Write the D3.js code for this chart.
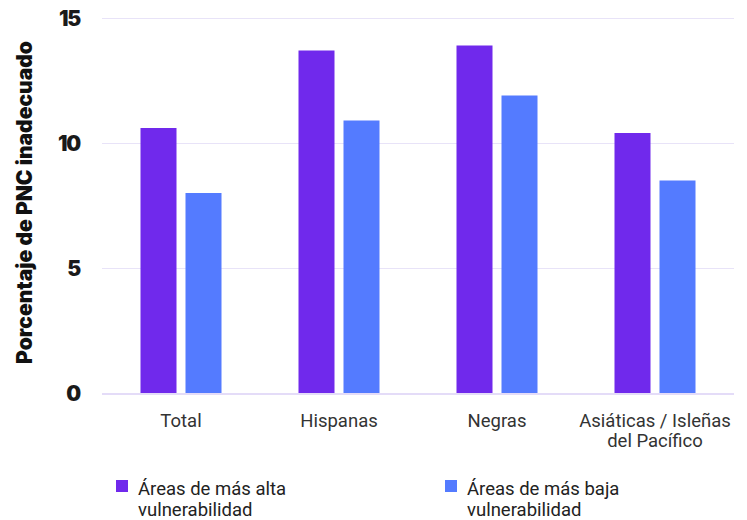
<!DOCTYPE html>
<html><head><meta charset="utf-8">
<script src="https://cdn.jsdelivr.net/npm/d3@7"></script>
<style>body{margin:0;background:#fff}svg{display:block}</style>
</head><body><svg id="c" width="747" height="520"></svg>
<script>
const categories = ["Total", "Hispanas", "Negras", "Asiáticas / Isleñas|del Pacífico"];
const seriesNames = ["Áreas de más alta|vulnerabilidad", "Áreas de más baja|vulnerabilidad"];
const altaValues = [10.6, 13.7, 13.9, 10.4];
const bajaValues = [8.0, 10.9, 11.9, 8.5];
const yTicks = [0, 5, 10, 15];
const colors = ["#7029ec", "#547bff"];

const svg = d3.select("#c");
const L = 102, R = 734, T = 18, B = 393;
const x = d3.scaleBand().domain(categories).range([L, R]).padding(0);
const inner = d3.scaleBand().domain([0, 1]).range([(x.bandwidth() - 81) / 2, (x.bandwidth() + 81) / 2]).paddingInner(0.2);
const y = d3.scaleLinear().domain([0, 15]).range([B, T]);

// grid
const gy = svg.append("g").attr("transform", `translate(${L},0)`)
  .call(d3.axisLeft(y).tickValues(yTicks).tickSize(-(R - L)).tickFormat(""));
gy.select(".domain").remove();
gy.selectAll(".tick line").attr("stroke", "#e8e3f8").attr("stroke-width", 1);

const data = categories.map((c, i) => ({ c, v: [altaValues[i], bajaValues[i]] }));
const g = svg.append("g");
g.selectAll("g.grp").data(data).join("g").attr("class", "grp")
  .attr("transform", d => `translate(${x(d.c)},0)`)
  .selectAll("rect").data(d => d.v.map((v, k) => ({ v, k }))).join("rect")
  .attr("x", d => inner(d.k)).attr("width", inner.bandwidth())
  .attr("y", d => y(d.v)).attr("height", d => y(0) - y(d.v))
  .attr("fill", d => colors[d.k]);

// baseline
svg.append("line").attr("x1", L).attr("x2", R).attr("y1", y(0) + 1).attr("y2", y(0) + 1)
  .attr("stroke", "#e4dcf8").attr("stroke-width", 2);

// y tick labels
const ya = svg.append("g").attr("transform", `translate(80,0)`)
  .call(d3.axisLeft(y).tickValues(yTicks).tickSize(0).tickPadding(0));
ya.select(".domain").remove();
ya.selectAll("text").attr("font-family", "Inter, Roboto, sans-serif").attr("font-weight", 900)
  .attr("font-size", 21).attr("fill", "#1a1a1a").attr("letter-spacing", "-1.2").attr("dy", "0.36em");

// y label
svg.append("text").attr("transform", `translate(32,${(40 + 365) / 2}) rotate(-90)`)
  .attr("text-anchor", "middle").attr("font-family", "Inter, Roboto, sans-serif")
  .attr("font-weight", 900).attr("font-size", 21).attr("fill", "#111")
  .text("Porcentaje de PNC inadecuado");

// x labels
const xa = svg.append("g").attr("transform", `translate(0,${B})`)
  .call(d3.axisBottom(x).tickSize(0).tickFormat(""));
xa.select(".domain").remove();
xa.selectAll(".tick").each(function (d) {
  const t = d3.select(this).append("text").attr("text-anchor", "middle")
    .attr("font-family", "Roboto, sans-serif").attr("font-size", 18.5).attr("fill", "#333");
  d.split("|").forEach((s, i) => t.append("tspan").attr("x", 0).attr("y", 34 + i * 20).text(s));
});

// legend
const legX = [116, 445];
const lg = svg.append("g");
seriesNames.forEach((n, i) => {
  lg.append("rect").attr("x", legX[i]).attr("y", 480).attr("width", 12).attr("height", 12).attr("fill", colors[i]);
  n.split("|").forEach((s, k) => lg.append("text").attr("font-family", "Roboto, sans-serif")
    .attr("font-size", 18.5).attr("fill", "#222")
    .attr("x", legX[i] + 22).attr("y", 495 + k * 21).text(s));
});
</script></body></html>
